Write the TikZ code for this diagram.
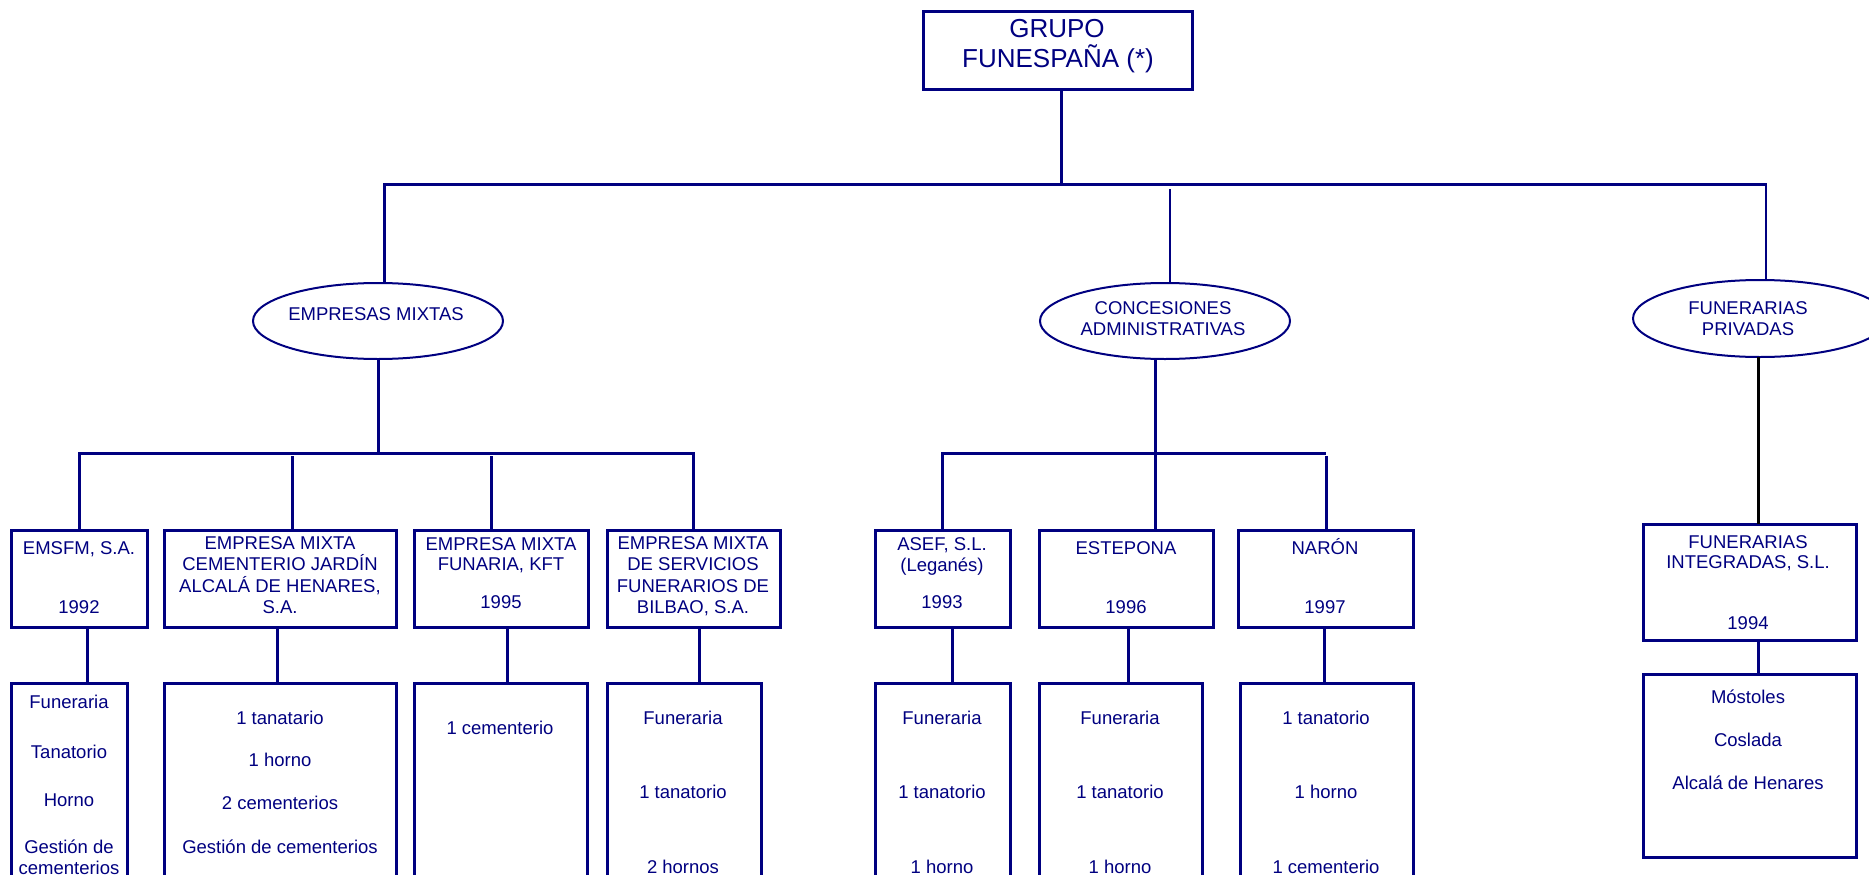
\documentclass[tikz,border=0pt]{standalone}
\usepackage{fontspec}
\setmainfont{Liberation Sans}
\usetikzlibrary{shapes.geometric}
\definecolor{navy}{RGB}{0,0,128}
\tikzset{
  box/.style={draw=navy, line width=3pt, rectangle, anchor=north west, outer sep=0pt, inner sep=0pt},
  oval/.style={draw=navy, line width=2pt, ellipse, outer sep=0pt, inner sep=0pt},
  txt/.style={text=navy, anchor=base, inner sep=0pt, font=\fontsize{18.5}{21}\selectfont},
  bigtxt/.style={text=navy, anchor=base, inner sep=0pt, font=\fontsize{26}{31}\selectfont},
  link/.style={draw=navy, line width=3pt},
  thinlink/.style={draw=navy, line width=2.2pt},
  blacklink/.style={draw=black, line width=3pt}
}
\begin{document}
\begin{tikzpicture}[x=1pt,y=-1pt]
\useasboundingbox (0,0) rectangle (1869,875);
\clip (0,0) rectangle (1869,875);
% ---------- top ----------
\node[box, minimum width=269pt, minimum height=77pt] (top) at (923,12) {};
\node[bigtxt] (tA) at (1057,37.3) {GRUPO};
\node[bigtxt] (tB) at (1058,68) {FUNESPAÑA (*)};
% ---------- ellipses ----------
\node[oval, minimum width=250pt, minimum height=76pt] (emp) at (378,321) {};
\node[oval, minimum width=250pt, minimum height=76pt] (conc) at (1165,321) {};
\node[oval, minimum width=254pt, minimum height=77pt] (fun) at (1760,318.5) {};
\node[txt] (eA) at (376,320) {EMPRESAS MIXTAS};
\node[txt] (cA) at (1163,314) {CONCESIONES};
\node[txt] (cB) at (1163,335) {ADMINISTRATIVAS};
\node[txt] (fA) at (1748,314) {FUNERARIAS};
\node[txt] (fB) at (1748,335) {PRIVADAS};
% ---------- second row boxes ----------
\node[box, minimum width=136pt, minimum height=97pt] (emsfm) at (11,530) {};
\node[box, minimum width=232pt, minimum height=97pt] (cem) at (164,530) {};
\node[box, minimum width=174pt, minimum height=97pt] (funa) at (414,530) {};
\node[box, minimum width=173pt, minimum height=97pt] (bil) at (607,530) {};
\node[box, minimum width=135pt, minimum height=97pt] (asef) at (875,530) {};
\node[box, minimum width=174pt, minimum height=97pt] (este) at (1039,530) {};
\node[box, minimum width=175pt, minimum height=97pt] (naron) at (1238,530) {};
\node[box, minimum width=213pt, minimum height=116pt] (fint) at (1643,524) {};
% texts second row
\node[txt] (s1a) at (79,554) {EMSFM, S.A.};
\node[txt] (s1b) at (79,613) {1992};
\node[txt] (s2a) at (280,549) {EMPRESA MIXTA};
\node[txt] (s2b) at (280,570.5) {CEMENTERIO JARDÍN};
\node[txt] (s2c) at (280,592) {ALCALÁ DE HENARES,};
\node[txt] (s2d) at (280,613) {S.A.};
\node[txt] (s3a) at (501,550) {EMPRESA MIXTA};
\node[txt] (s3b) at (501,570.5) {FUNARIA, KFT};
\node[txt] (s3c) at (501,608) {1995};
\node[txt] (s4a) at (693,549) {EMPRESA MIXTA};
\node[txt] (s4b) at (693,570.5) {DE SERVICIOS};
\node[txt] (s4c) at (693,592) {FUNERARIOS DE};
\node[txt] (s4d) at (693,613) {BILBAO, S.A.};
\node[txt] (s5a) at (942,550) {ASEF, S.L.};
\node[txt] (s5b) at (942,571) {(Leganés)};
\node[txt] (s5c) at (942,608) {1993};
\node[txt] (s6a) at (1126,554) {ESTEPONA};
\node[txt] (s6b) at (1126,613) {1996};
\node[txt] (s7a) at (1325,554) {NARÓN};
\node[txt] (s7b) at (1325,613) {1997};
\node[txt] (s8a) at (1748,548) {FUNERARIAS};
\node[txt] (s8b) at (1748,568.5) {INTEGRADAS, S.L.};
\node[txt] (s8c) at (1748,629) {1994};
% ---------- third row boxes ----------
\node[box, minimum width=116pt, minimum height=230pt] (emsfmL) at (11,683) {};
\node[box, minimum width=232pt, minimum height=230pt] (cemL) at (164,683) {};
\node[box, minimum width=173pt, minimum height=230pt] (funaL) at (414,683) {};
\node[box, minimum width=154pt, minimum height=230pt] (bilL) at (607,683) {};
\node[box, minimum width=135pt, minimum height=230pt] (asefL) at (875,683) {};
\node[box, minimum width=163pt, minimum height=230pt] (esteL) at (1039,683) {};
\node[box, minimum width=173pt, minimum height=230pt] (naronL) at (1240,683) {};
\node[box, minimum width=213pt, minimum height=183pt] (fintL) at (1643,674) {};
% texts third row
\node[txt] (u1a) at (69,708) {Funeraria};
\node[txt] (u1b) at (69,758) {Tanatorio};
\node[txt] (u1c) at (69,806) {Horno};
\node[txt] (u1d) at (69,853) {Gestión de};
\node[txt] (u1e) at (69,874) {cementerios};
\node[txt] (u2a) at (280,724) {1 tanatario};
\node[txt] (u2b) at (280,766.5) {1 horno};
\node[txt] (u2c) at (280,809) {2 cementerios};
\node[txt] (u2d) at (280,853) {Gestión de cementerios};
\node[txt] (u3a) at (500,734) {1 cementerio};
\node[txt] (u4a) at (683,724) {Funeraria};
\node[txt] (u4b) at (683,798) {1 tanatorio};
\node[txt] (u4c) at (683,873) {2 hornos};
\node[txt] (u5a) at (942,724) {Funeraria};
\node[txt] (u5b) at (942,798) {1 tanatorio};
\node[txt] (u5c) at (942,873) {1 horno};
\node[txt] (u6a) at (1120,724) {Funeraria};
\node[txt] (u6b) at (1120,798) {1 tanatorio};
\node[txt] (u6c) at (1120,873) {1 horno};
\node[txt] (u7a) at (1326,724) {1 tanatorio};
\node[txt] (u7b) at (1326,798) {1 horno};
\node[txt] (u7c) at (1326,873) {1 cementerio};
\node[txt] (u8a) at (1748,703) {Móstoles};
\node[txt] (u8b) at (1748,746) {Coslada};
\node[txt] (u8c) at (1748,789) {Alcalá de Henares};
% ---------- junction coordinates ----------
\coordinate (mainJ) at (1061,184);
\coordinate (barL) at (384,184);
\coordinate (barR) at (1767,184);
\coordinate (concJ) at (1170,189);
\coordinate (funJ) at (1766,186);
\coordinate (empJ) at (378,453);
\coordinate (e1) at (79,453);
\coordinate (e2) at (292,456);
\coordinate (e3) at (491,456);
\coordinate (e4) at (693,453);
\coordinate (cJ) at (1155,453);
\coordinate (c1) at (942,453);
\coordinate (c3) at (1326,453);
\coordinate (c3b) at (1326,456);
\coordinate (fJ) at (1758,0);
\coordinate (l1) at (87,0);
\coordinate (l2) at (277,0);
\coordinate (l3) at (507,0);
\coordinate (l4) at (699,0);
\coordinate (l5) at (952,0);
\coordinate (l6) at (1128,0);
\coordinate (l7) at (1324,0);
% ---------- connectors ----------
\draw[link] (top.south -| mainJ) -- (mainJ);
\draw[link] (barL |- emp.north) -- (barL) -- (barR);
\draw[thinlink] (concJ) -- (concJ |- conc.north);
\draw[thinlink] (funJ) -- (funJ |- fun.north);
\draw[link] (emp.south) -- (empJ);
\draw[link] (e1 |- emsfm.north) -- (e1) -- (e4) -- (e4 |- bil.north);
\draw[link] (e2) -- (e2 |- cem.north);
\draw[link] (e3) -- (e3 |- funa.north);
\draw[link] (cJ |- conc.south) -- (cJ |- este.north);
\draw[link] (c1 |- asef.north) -- (c1) -- (c3);
\draw[link] (c3b) -- (c3b |- naron.north);
\draw[blacklink] (fJ |- fun.south) -- (fJ |- fint.north);
\draw[link] (fJ |- fint.south) -- (fJ |- fintL.north);
\draw[link] (l1 |- emsfm.south) -- (l1 |- emsfmL.north);
\draw[link] (l2 |- cem.south) -- (l2 |- cemL.north);
\draw[link] (l3 |- funa.south) -- (l3 |- funaL.north);
\draw[link] (l4 |- bil.south) -- (l4 |- bilL.north);
\draw[link] (l5 |- asef.south) -- (l5 |- asefL.north);
\draw[link] (l6 |- este.south) -- (l6 |- esteL.north);
\draw[link] (l7 |- naron.south) -- (l7 |- naronL.north);
\end{tikzpicture}
\end{document}
